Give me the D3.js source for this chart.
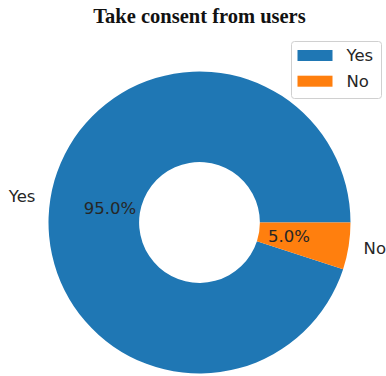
<!DOCTYPE html>
<html>
<head>
<meta charset="utf-8">
<script src="https://cdn.jsdelivr.net/npm/d3@7"></script>
<style>
  html, body { margin: 0; padding: 0; background: #fff; }
  svg { display: block; }
</style>
</head>
<body>
<svg id="chart" width="386" height="376"></svg>
<script>
// Survey answers
const categories = ["Yes", "No"];
const values = [95, 5];
const colors = ["#1f77b4", "#ff7f0e"];
const title = "Take consent from users";

const W = 386, H = 376;
const cx = 199.5, cy = 222.5;
const R = 151;
const holeRatio = 0.4;
const labelFont = "'DejaVu Sans', sans-serif";
const labelSize = 16.5;

const svg = d3.select("#chart");

const data = categories.map((c, i) => ({ name: c, value: values[i], color: colors[i] }));
const total = d3.sum(values);

// Wedges start at 3 o'clock and run counter-clockwise
const pie = d3.pie()
  .sort(null)
  .value(d => d.value)
  .startAngle(Math.PI / 2)
  .endAngle(Math.PI / 2 - 2 * Math.PI);

const arcs = pie(data);

const arc = d3.arc().innerRadius(R * holeRatio).outerRadius(R);
const labelArc = d3.arc().innerRadius(R * 1.1).outerRadius(R * 1.1);
const pctArc = d3.arc().innerRadius(R * 0.6).outerRadius(R * 0.6);

const g = svg.append("g").attr("transform", `translate(${cx},${cy})`);

g.selectAll("path.wedge")
  .data(arcs)
  .join("path")
  .attr("class", "wedge")
  .attr("d", arc)
  .attr("fill", d => d.data.color);

// Category labels outside the ring
g.selectAll("text.cat")
  .data(arcs)
  .join("text")
  .attr("class", "cat")
  .attr("x", d => labelArc.centroid(d)[0])
  .attr("y", d => labelArc.centroid(d)[1])
  .attr("text-anchor", d => labelArc.centroid(d)[0] > 0 ? "start" : "end")
  .attr("dominant-baseline", "central")
  .attr("font-family", labelFont)
  .attr("font-size", labelSize)
  .attr("fill", "#262626")
  .text(d => d.data.name);

// Percentages inside the ring
g.selectAll("text.pct")
  .data(arcs)
  .join("text")
  .attr("class", "pct")
  .attr("x", d => pctArc.centroid(d)[0])
  .attr("y", d => pctArc.centroid(d)[1])
  .attr("text-anchor", "middle")
  .attr("dominant-baseline", "central")
  .attr("font-family", labelFont)
  .attr("font-size", labelSize)
  .attr("fill", "#262626")
  .text(d => (d.data.value / total * 100).toFixed(1) + "%");

// Title
svg.append("text")
  .attr("x", cx)
  .attr("y", 23)
  .attr("text-anchor", "middle")
  .attr("font-family", "'Liberation Serif', 'Times New Roman', serif")
  .attr("font-weight", "bold")
  .attr("font-size", 20.5)
  .attr("fill", "#111")
  .text(title);

// Legend
const legend = svg.append("g").attr("transform", "translate(291.5,41.5)");
legend.append("rect")
  .attr("width", 90)
  .attr("height", 57)
  .attr("rx", 3)
  .attr("fill", "#fff")
  .attr("fill-opacity", 0.8)
  .attr("stroke", "#d0d0d0")
  .attr("stroke-width", 1);

const items = legend.selectAll("g.item")
  .data(data)
  .join("g")
  .attr("class", "item")
  .attr("transform", (d, i) => `translate(6,${8.5 + i * 25.7})`);

items.append("rect")
  .attr("width", 35)
  .attr("height", 11)
  .attr("fill", d => d.color);

items.append("text")
  .attr("x", 49)
  .attr("y", 5.5)
  .attr("dominant-baseline", "central")
  .attr("font-family", labelFont)
  .attr("font-size", labelSize)
  .attr("fill", "#262626")
  .text(d => d.name);
</script>
</body>
</html>
